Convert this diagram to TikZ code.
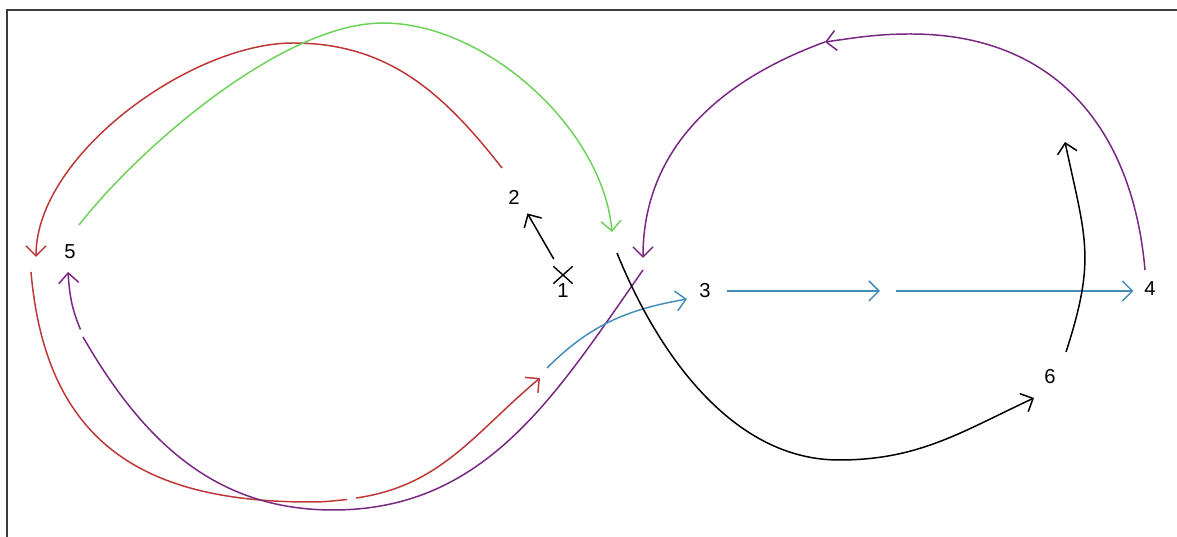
\documentclass[tikz,border=0pt]{standalone}
\usepackage{fontspec}
\setmainfont{Liberation Sans}
\usetikzlibrary{positioning,arrows.meta,shapes.misc}
\definecolor{redline}{RGB}{190,55,55}
\definecolor{greenline}{RGB}{110,210,90}
\definecolor{purpleline}{RGB}{120,40,130}
\definecolor{blueline}{RGB}{70,140,185}
\definecolor{frameline}{RGB}{60,60,60}
\tikzset{
  numlabel/.style={inner sep=3pt, font=\fontsize{11.5}{13}\selectfont},
  crossmark/.style={cross out, draw, line width=0.8pt, minimum width=0.36cm, minimum height=0.32cm, inner sep=0pt},
  loopline/.style={->, line width=0.85pt},
  redarrow/.style={loopline, draw=redline},
  greenarrow/.style={loopline, draw=greenline},
  purplearrow/.style={loopline, draw=purpleline},
  bluearrow/.style={loopline, draw=blueline},
  blackarrow/.style={loopline, draw=black},
  border/.style={draw=frameline, line width=1.2pt}
}

\begin{document}
\begin{tikzpicture}[>={Straight Barb[length=2mm,width=4mm]}]
  \useasboundingbox (0,0) rectangle (23.54,10.74);
  \draw[border] (0.14,-0.2) |- (23.8,10.54);

  % numbers
  \node[numlabel] (n5) at (1.40,5.70) {5};
  \node[numlabel] (n2) at (10.28,6.80) {2};
  \node[crossmark] (x1) at (11.26,5.24) {};
  \node[numlabel, below=-3.5pt of x1] (n1) {1};
  \node[numlabel] (n3) at (14.10,4.92) {3};
  \node[numlabel] (n4) at (23.00,4.96) {4};
  \node[numlabel] (n6) at (21.00,3.20) {6};

  % loose ends of the curves
  \coordinate (redTop) at (10.04,7.38);
  \coordinate (redFive) at (0.72,5.60);
  \coordinate (redLow) at (0.62,5.30);
  \coordinate (redGapA) at (6.94,0.75);
  \coordinate (redGapB) at (7.12,0.78);
  \coordinate (redEnd) at (10.80,3.18);
  \coordinate (greenStart) at (1.58,6.24);
  \coordinate (greenEnd) at (12.24,6.10);
  \coordinate (purpleStart) at (22.90,5.34);
  \coordinate (purpleMid) at (16.50,9.90);
  \coordinate (purpleEnd) at (12.86,5.58);
  \coordinate (purpleLow) at (12.86,5.34);
  \coordinate (purpleGapA) at (1.66,4.00);
  \coordinate (purpleGapB) at (1.61,4.15);
  \coordinate (purpleFive) at (1.36,5.30);
  \coordinate (blueStart) at (10.94,3.38);
  \coordinate (blueEnd) at (13.74,4.76);
  \coordinate (blueMid) at (17.60,4.92);
  \coordinate (blackStart) at (12.34,5.68);
  \coordinate (blackEnd) at (20.68,2.78);
  \coordinate (sixStart) at (21.32,3.70);
  \coordinate (sixEnd) at (21.30,7.90);

  \draw[blackarrow, shorten <=4.7pt, shorten >=2.5pt] (x1) -- (n2.south east);

  \draw[redarrow] (redTop) to[out=128,in=0] (5.86,9.88) to[out=180,in=90,looseness=0.78] (redFive);
  \draw[redarrow, -] (redLow) to[out=-85,in=180,looseness=1.2] (6.2,0.70) to[out=0,in=186] (redGapA);
  \draw[redarrow] (redGapB) to[out=8,in=220] (redEnd);

  \draw[greenarrow] (greenStart) to[out=52,in=180,looseness=0.7] (7.66,10.28) to[out=0,in=95,looseness=0.85] (greenEnd);

  \draw[purplearrow] (purpleStart) to[out=95,in=0,looseness=1.1] (18.22,10.06) to[out=180,in=8] (purpleMid);
  \draw[purplearrow] (purpleMid) to[out=200,in=90] (purpleEnd);
  \draw[purplearrow, -] (purpleLow) to[out=235,in=0] (6.66,0.54) to[out=180,in=-60] (purpleGapA);
  \draw[purplearrow] (purpleGapB) to[out=113,in=-86] (purpleFive);

  \draw[bluearrow] (blueStart) to[out=45,in=190] (blueEnd);
  \draw[bluearrow, shorten <=6pt] (n3) -- (blueMid);
  \draw[bluearrow, shorten <=0.3pt, shorten >=3pt] ([xshift=0.3cm]blueMid) -- (n4.west |- blueMid);

  \draw[blackarrow] (blackStart) to[out=-68,in=180,looseness=0.9] (16.78,1.54) to[out=0,in=205] (blackEnd);
  \draw[blackarrow] (sixStart) to[out=72,in=-78,looseness=1.2] (sixEnd);
\end{tikzpicture}
\end{document}
